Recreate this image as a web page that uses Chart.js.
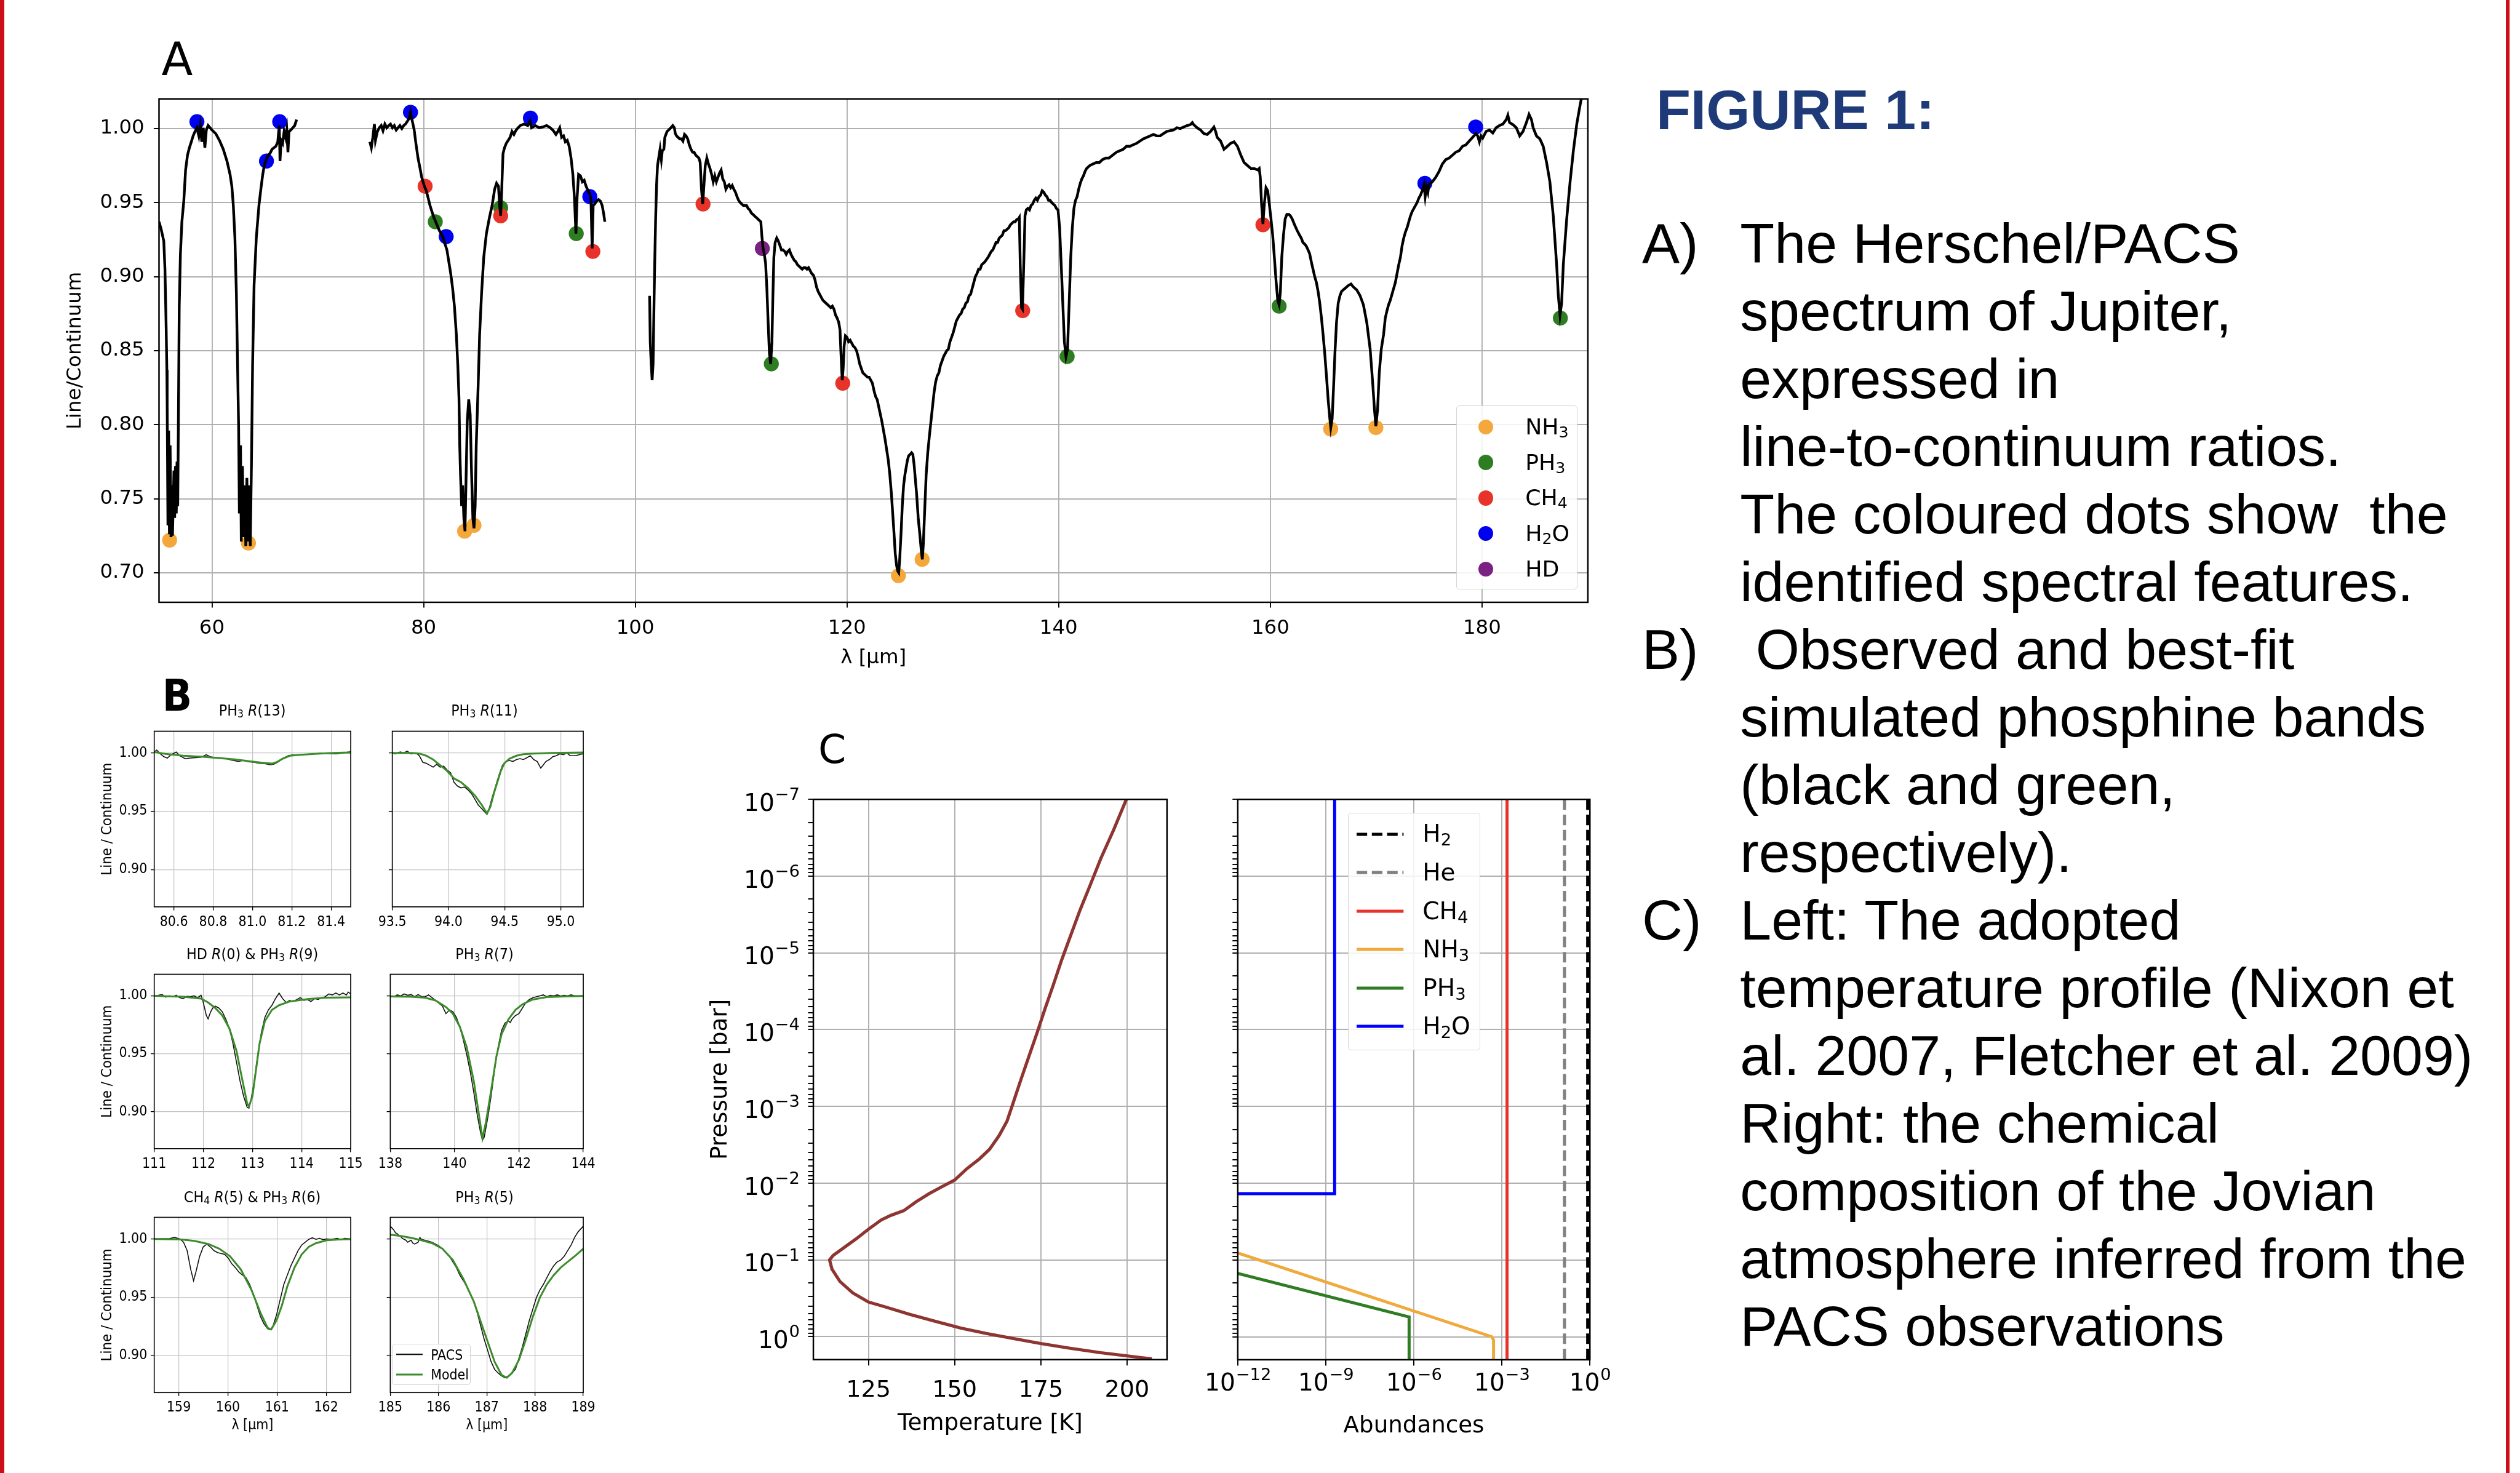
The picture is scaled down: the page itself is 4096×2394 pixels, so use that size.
<!DOCTYPE html>
<html>
<head>
<meta charset="utf-8">
<title>Figure 1 - Herschel/PACS spectrum of Jupiter</title>
<script src="https://cdn.jsdelivr.net/npm/chart.js@4.4.1/dist/chart.umd.min.js"></script>
<style>
  html, body { margin: 0; padding: 0; background: #fff; }
  #page { position: relative; width: 4096px; height: 2394px; overflow: hidden; background: #fff; }
  #page canvas { position: absolute; }
  .txt { position: absolute; line-height: 1; white-space: pre; color: #000; }
  .txt sub { font-size: 70%; vertical-align: -0.22em; line-height: 0; }
  .box { position: absolute; box-sizing: border-box; background: rgba(255,255,255,0.85); border: 1px solid #d4d4d4; border-radius: 5px; }
  .edge { position: absolute; top: 0; height: 2394px; background: #cc0d1a; }
</style>
</head>
<body>
<div id="page"></div>
<script>
/* ==================================================================
   DATA
   ================================================================== */

// --- Panel A: PACS line/continuum spectrum (three detector segments) ---
const aXTicks = [60, 80, 100, 120, 140, 160, 180];
const aYTicks = [0.70, 0.75, 0.80, 0.85, 0.90, 0.95, 1.00];

const specSeg1 = [[55.0,0.937],[55.2,0.932],[55.45,0.924],[55.56,0.905],[55.67,0.867],[55.74,0.837],[55.77,0.813],[55.84,0.732],[55.91,0.796],[55.98,0.726],[56.05,0.786],[56.13,0.724],[56.2,0.759],[56.27,0.725],[56.34,0.745],[56.41,0.769],[56.48,0.737],[56.55,0.772],[56.63,0.740],[56.7,0.775],[56.77,0.745],[56.84,0.813],[56.91,0.880],[57.02,0.915],[57.16,0.937],[57.34,0.951],[57.51,0.972],[57.69,0.982],[57.87,0.987],[58.05,0.991],[58.22,0.995],[58.4,0.998],[58.58,1.0005],[58.76,0.995],[58.9,1.002],[59.04,0.991],[59.18,1.0005],[59.33,0.987],[59.47,0.999],[59.64,1.002],[59.82,1.0005],[60.0,0.999],[60.36,0.9965],[60.71,0.992],[61.07,0.986],[61.42,0.978],[61.71,0.969],[61.88,0.961],[62.02,0.948],[62.17,0.926],[62.31,0.888],[62.42,0.840],[62.52,0.799],[62.59,0.740],[62.7,0.786],[62.77,0.721],[62.88,0.772],[62.98,0.724],[63.09,0.759],[63.2,0.718],[63.3,0.764],[63.41,0.721],[63.52,0.759],[63.62,0.718],[63.73,0.772],[63.84,0.840],[63.98,0.894],[64.19,0.926],[64.44,0.948],[64.62,0.959],[64.8,0.969],[64.97,0.976],[65.15,0.979],[65.33,0.982],[65.51,0.9835],[65.68,0.986],[65.86,0.987],[66.04,0.988],[66.22,0.991],[66.36,1.002],[66.43,0.978],[66.54,0.992],[66.68,0.990],[66.82,0.998],[66.96,0.994],[67.07,0.999],[67.18,0.984],[67.28,0.998],[67.46,0.999],[67.64,1.0005],[67.82,1.002],[68.0,1.006]];

const specSeg2 = [[74.92,0.991],[75.06,0.987],[75.2,0.994],[75.35,1.003],[75.45,0.992],[75.63,0.998],[75.81,1.0005],[75.99,1.002],[76.16,0.9985],[76.34,1.003],[76.52,1.0005],[76.7,1.002],[76.87,1.003],[77.05,1.0005],[77.23,1.002],[77.41,0.999],[77.58,1.0005],[77.76,1.002],[77.94,1.0],[78.12,1.002],[78.29,1.003],[78.47,1.005],[78.65,1.007],[78.76,1.011],[78.9,1.006],[79.11,0.999],[79.25,0.991],[79.47,0.98],[79.61,0.975],[79.82,0.967],[80.07,0.961],[80.25,0.958],[80.43,0.953],[80.6,0.948],[80.78,0.944],[80.96,0.94],[81.14,0.937],[81.31,0.934],[81.49,0.931],[81.67,0.929],[81.85,0.926],[82.02,0.922],[82.2,0.918],[82.38,0.91],[82.56,0.902],[82.74,0.892],[82.91,0.88],[83.09,0.861],[83.23,0.84],[83.34,0.818],[83.41,0.786],[83.48,0.767],[83.59,0.745],[83.69,0.759],[83.8,0.737],[83.91,0.728],[84.01,0.764],[84.12,0.802],[84.26,0.817],[84.4,0.807],[84.51,0.772],[84.65,0.737],[84.76,0.73],[84.87,0.745],[84.97,0.786],[85.15,0.826],[85.29,0.861],[85.47,0.888],[85.68,0.913],[85.93,0.929],[86.22,0.94],[86.47,0.948],[86.71,0.959],[86.89,0.963],[87.07,0.961],[87.18,0.948],[87.28,0.941],[87.39,0.961],[87.5,0.983],[87.64,0.987],[87.81,0.99],[87.99,0.992],[88.17,0.994],[88.35,0.998],[88.53,0.996],[88.7,0.9985],[88.92,1.0005],[89.13,1.002],[89.49,1.003],[89.84,1.002],[90.05,1.005],[90.2,1.0005],[90.55,1.002],[90.91,1.0005],[91.26,1.001],[91.62,1.002],[91.97,1.0005],[92.26,0.9985],[92.5,0.996],[92.68,0.998],[92.86,1.0005],[93.04,0.994],[93.22,0.995],[93.39,0.991],[93.57,0.992],[93.75,0.988],[93.93,0.98],[94.1,0.969],[94.25,0.953],[94.39,0.929],[94.5,0.953],[94.64,0.969],[94.82,0.968],[95.0,0.964],[95.17,0.965],[95.35,0.961],[95.53,0.958],[95.7,0.956],[95.81,0.952],[95.92,0.919],[96.02,0.948],[96.16,0.949],[96.34,0.951],[96.52,0.952],[96.7,0.951],[96.87,0.948],[97.02,0.942],[97.12,0.937]];

const specSeg3 = [[101.35,0.887],[101.41,0.856],[101.5,0.841],[101.59,0.830],[101.68,0.841],[101.74,0.869],[101.83,0.908],[101.92,0.939],[102.01,0.962],[102.1,0.975],[102.25,0.982],[102.34,0.986],[102.46,0.979],[102.55,0.985],[102.7,0.986],[102.79,0.994],[103.0,0.998],[103.15,0.999],[103.36,1.0005],[103.54,1.002],[103.69,1.0005],[103.78,0.9966],[103.9,0.995],[104.05,0.994],[104.2,0.993],[104.35,0.993],[104.5,0.9915],[104.65,0.996],[104.8,0.995],[104.95,0.993],[105.1,0.989],[105.26,0.986],[105.41,0.984],[105.56,0.984],[105.71,0.982],[105.86,0.981],[106.01,0.98],[106.13,0.977],[106.25,0.959],[106.37,0.949],[106.46,0.959],[106.61,0.975],[106.76,0.98],[106.91,0.976],[107.06,0.973],[107.21,0.969],[107.36,0.964],[107.51,0.968],[107.66,0.964],[107.81,0.967],[107.96,0.97],[108.11,0.972],[108.26,0.966],[108.41,0.964],[108.56,0.959],[108.71,0.961],[108.86,0.962],[109.01,0.96],[109.16,0.9615],[109.31,0.959],[109.46,0.957],[109.61,0.954],[109.76,0.9515],[109.91,0.95],[110.06,0.949],[110.21,0.948],[110.51,0.948],[110.66,0.946],[110.81,0.945],[110.96,0.943],[111.11,0.942],[111.26,0.941],[111.41,0.94],[111.56,0.939],[111.71,0.938],[111.86,0.937],[111.95,0.928],[112.07,0.919],[112.19,0.915],[112.31,0.909],[112.43,0.892],[112.55,0.869],[112.67,0.848],[112.79,0.841],[112.91,0.856],[113.0,0.887],[113.09,0.913],[113.21,0.923],[113.36,0.926],[113.51,0.924],[113.66,0.921],[113.81,0.918],[113.96,0.918],[114.11,0.917],[114.26,0.915],[114.41,0.917],[114.56,0.918],[114.71,0.915],[114.86,0.913],[115.02,0.911],[115.17,0.91],[115.32,0.908],[115.47,0.907],[115.62,0.906],[115.77,0.905],[115.92,0.906],[116.07,0.906],[116.22,0.905],[116.37,0.906],[116.52,0.904],[116.67,0.902],[116.82,0.901],[116.97,0.898],[117.12,0.893],[117.27,0.89],[117.42,0.888],[117.57,0.886],[117.72,0.884],[117.87,0.883],[118.02,0.882],[118.17,0.881],[118.32,0.88],[118.47,0.879],[118.62,0.88],[118.77,0.878],[118.92,0.874],[119.07,0.872],[119.22,0.869],[119.34,0.864],[119.43,0.848],[119.55,0.83],[119.64,0.838],[119.73,0.853],[119.85,0.86],[120.0,0.859],[120.15,0.856],[120.3,0.857],[120.45,0.855],[120.6,0.853],[120.75,0.852],[120.9,0.85],[121.05,0.846],[121.2,0.841],[121.35,0.838],[121.5,0.835],[121.65,0.834],[121.8,0.833],[121.95,0.832],[122.1,0.832],[122.25,0.83],[122.4,0.828],[122.55,0.823],[122.7,0.819],[122.85,0.817],[123.0,0.812],[123.15,0.807],[123.3,0.802],[123.45,0.796],[123.6,0.79],[123.75,0.783],[123.9,0.776],[124.05,0.766],[124.2,0.753],[124.32,0.74],[124.44,0.727],[124.56,0.713],[124.68,0.705],[124.8,0.701],[124.89,0.7],[124.98,0.709],[125.11,0.727],[125.23,0.746],[125.35,0.759],[125.47,0.766],[125.59,0.771],[125.71,0.776],[125.83,0.779],[125.98,0.78],[126.1,0.781],[126.22,0.78],[126.34,0.773],[126.46,0.763],[126.58,0.753],[126.73,0.737],[126.88,0.726],[127.03,0.714],[127.12,0.709],[127.21,0.719],[127.33,0.74],[127.48,0.766],[127.63,0.781],[127.78,0.792],[127.93,0.802],[128.08,0.812],[128.23,0.822],[128.38,0.829],[128.53,0.833],[128.68,0.835],[128.83,0.84],[128.98,0.843],[129.13,0.846],[129.28,0.848],[129.43,0.85],[129.58,0.851],[129.73,0.856],[129.88,0.859],[130.03,0.862],[130.18,0.866],[130.33,0.87],[130.48,0.872],[130.63,0.874],[130.78,0.875],[130.93,0.878],[131.08,0.879],[131.23,0.882],[131.38,0.883],[131.53,0.887],[131.68,0.888],[131.83,0.892],[131.98,0.896],[132.13,0.9],[132.28,0.902],[132.43,0.905],[132.58,0.905],[132.73,0.908],[132.88,0.909],[133.03,0.91],[133.18,0.9115],[133.33,0.913],[133.48,0.915],[133.63,0.917],[133.78,0.918],[133.93,0.9205],[134.08,0.923],[134.23,0.923],[134.38,0.926],[134.53,0.927],[134.68,0.928],[134.83,0.931],[134.98,0.931],[135.14,0.932],[135.29,0.933],[135.44,0.935],[135.59,0.936],[135.74,0.937],[135.89,0.937],[136.04,0.9385],[136.19,0.939],[136.28,0.94],[136.37,0.908],[136.49,0.879],[136.58,0.878],[136.7,0.908],[136.82,0.941],[136.94,0.945],[137.09,0.946],[137.24,0.945],[137.39,0.948],[137.54,0.949],[137.69,0.9515],[137.84,0.953],[137.99,0.9515],[138.14,0.954],[138.29,0.955],[138.44,0.958],[138.59,0.957],[138.74,0.955],[138.89,0.954],[139.04,0.9515],[139.19,0.9515],[139.34,0.95],[139.49,0.949],[139.64,0.948],[139.79,0.946],[139.94,0.945],[140.09,0.933],[140.24,0.908],[140.39,0.882],[140.54,0.856],[140.69,0.846],[140.84,0.851],[140.99,0.882],[141.14,0.913],[141.29,0.933],[141.44,0.946],[141.59,0.9515],[141.74,0.954],[141.89,0.959],[142.04,0.963],[142.19,0.966],[142.34,0.968],[142.49,0.971],[142.64,0.973],[142.94,0.975],[143.24,0.976],[143.54,0.977],[143.84,0.977],[144.14,0.979],[144.44,0.98],[144.74,0.98],[145.46,0.984],[145.78,0.985],[146.1,0.986],[146.41,0.988],[146.73,0.988],[147.05,0.989],[147.37,0.99],[147.68,0.9915],[148.0,0.993],[148.32,0.994],[148.63,0.995],[148.95,0.996],[149.27,0.995],[149.59,0.995],[149.9,0.9966],[150.22,0.998],[150.54,0.9985],[150.86,0.999],[151.17,1.0005],[151.49,1.0],[151.81,1.001],[152.13,1.002],[152.44,1.0026],[152.63,1.004],[152.76,1.0026],[153.08,1.0005],[153.4,0.999],[153.71,0.9966],[154.03,0.996],[154.35,0.998],[154.67,1.001],[154.83,0.998],[154.98,0.994],[155.3,0.9915],[155.62,0.986],[155.94,0.988],[156.25,0.99],[156.57,0.991],[156.89,0.988],[157.21,0.982],[157.52,0.977],[157.84,0.975],[158.16,0.973],[158.48,0.973],[158.79,0.972],[158.95,0.973],[159.05,0.967],[159.17,0.949],[159.3,0.9355],[159.43,0.949],[159.59,0.96],[159.75,0.958],[159.9,0.949],[160.06,0.939],[160.22,0.928],[160.38,0.913],[160.54,0.897],[160.7,0.884],[160.83,0.881],[160.95,0.89],[161.08,0.913],[161.24,0.928],[161.4,0.939],[161.56,0.942],[161.75,0.942],[161.9,0.941],[162.06,0.939],[162.29,0.935],[162.54,0.931],[162.76,0.928],[162.92,0.926],[163.08,0.923],[163.24,0.922],[163.4,0.9205],[163.56,0.918],[163.71,0.9155],[163.87,0.91],[164.03,0.905],[164.19,0.9],[164.35,0.896],[164.51,0.89],[164.67,0.882],[164.83,0.872],[164.98,0.861],[165.14,0.848],[165.3,0.833],[165.46,0.817],[165.62,0.804],[165.71,0.798],[165.84,0.804],[165.97,0.825],[166.1,0.848],[166.25,0.869],[166.41,0.882],[166.57,0.887],[166.73,0.89],[166.89,0.891],[167.05,0.892],[167.37,0.894],[167.62,0.895],[167.84,0.893],[168.16,0.891],[168.48,0.887],[168.79,0.881],[169.11,0.869],[169.43,0.851],[169.65,0.83],[169.84,0.81],[169.97,0.799],[170.13,0.81],[170.29,0.835],[170.48,0.851],[170.7,0.861],[170.86,0.872],[171.02,0.877],[171.17,0.881],[171.33,0.884],[171.49,0.888],[171.65,0.892],[171.81,0.896],[171.97,0.902],[172.13,0.908],[172.29,0.913],[172.44,0.9205],[172.6,0.926],[172.76,0.93],[172.92,0.933],[173.08,0.937],[173.24,0.941],[173.4,0.944],[173.56,0.946],[173.71,0.948],[173.87,0.95],[174.03,0.953],[174.19,0.955],[174.35,0.958],[174.51,0.962],[174.63,0.954],[174.76,0.9605],[174.89,0.957],[174.98,0.962],[175.3,0.964],[175.62,0.967],[175.94,0.971],[176.25,0.976],[176.57,0.979],[176.89,0.98],[177.21,0.982],[177.52,0.984],[177.84,0.985],[178.16,0.988],[178.48,0.989],[178.79,0.9915],[179.11,0.994],[179.43,0.9966],[179.59,0.995],[179.75,0.991],[179.9,0.995],[180.06,0.9935],[180.38,0.998],[180.7,0.999],[181.02,0.997],[181.33,1.0005],[181.65,1.002],[181.97,1.003],[182.29,1.006],[182.44,1.009],[182.6,1.004],[182.92,1.0026],[183.24,1.0005],[183.56,0.995],[183.87,0.998],[184.19,1.004],[184.44,1.0095],[184.67,1.006],[184.83,1.0005],[185.14,0.995],[185.46,0.993],[185.78,0.988],[186.1,0.977],[186.41,0.964],[186.73,0.941],[187.05,0.908],[187.21,0.887],[187.37,0.874],[187.52,0.882],[187.68,0.908],[188.0,0.939],[188.32,0.964],[188.63,0.985],[188.95,1.003],[189.27,1.016],[189.52,1.025]];

// identified features (coloured dots)
const speciesLabels = ['NH₃', 'PH₃', 'CH₄', 'H₂O', 'HD'];
const speciesColors = ['#f4a83c', '#2f7d22', '#e8332a', '#0000f0', '#7b2183'];
const dotsNH3 = [[56.0,0.722],[63.45,0.720],[83.87,0.728],[84.76,0.732],[124.86,0.698],[127.1,0.709],[165.7,0.797],[169.97,0.798]];
const dotsPH3 = [[81.1,0.937],[87.28,0.9465],[94.42,0.929],[112.85,0.841],[140.8,0.846],[160.83,0.880],[187.4,0.872]];
const dotsCH4 = [[80.14,0.961],[87.28,0.941],[95.99,0.917],[106.4,0.949],[119.6,0.828],[136.6,0.877],[159.3,0.935]];
const dotsH2O = [[58.58,1.0046],[65.15,0.978],[66.4,1.0046],[78.76,1.011],[82.13,0.927],[90.09,1.007],[95.7,0.954],[174.6,0.963],[179.4,1.001]];
const dotsHD  = [[112.0,0.919]];

// --- Panel B: observed (PACS) and model phosphine bands ---
const bYTicks = [0.90, 0.95, 1.00];
const bTitles = ['PH<sub>3</sub> <i>R</i>(13)', 'PH<sub>3</sub> <i>R</i>(11)', 'HD <i>R</i>(0) &amp; PH<sub>3</sub> <i>R</i>(9)',
                 'PH<sub>3</sub> <i>R</i>(7)', 'CH<sub>4</sub> <i>R</i>(5) &amp; PH<sub>3</sub> <i>R</i>(6)', 'PH<sub>3</sub> <i>R</i>(5)'];
const bXTicks = [[80.6, 80.8, 81.0, 81.2, 81.4], [93.5, 94.0, 94.5, 95.0], [111, 112, 113, 114, 115],
                 [138, 140, 142, 144], [159, 160, 161, 162], [185, 186, 187, 188, 189]];
const bXRange = [[80.5, 81.5], [93.5, 95.2], [111, 115], [138, 144], [158.5, 162.5], [185, 189]];
const bDecimals = [1, 1, 0, 0, 0, 0];

const bPacs13 = [[80.5,1.0008],[80.513,1.0024],[80.531,0.9992],[80.549,0.9968],[80.567,0.9956],[80.585,0.9984],[80.612,1.0008],[80.63,0.9976],[80.657,0.9951],[80.684,0.9956],[80.711,0.9959],[80.738,0.9963],[80.765,0.9984],[80.784,0.9968],[80.811,0.9959],[80.838,0.9959],[80.865,0.9951],[80.901,0.9935],[80.928,0.9927],[80.955,0.9935],[80.982,0.9924],[81.009,0.9919],[81.036,0.9911],[81.063,0.9908],[81.091,0.9898],[81.109,0.9903],[81.127,0.9919],[81.154,0.9951],[81.181,0.9976],[81.208,0.9984],[81.244,0.9984],[81.28,0.9989],[81.316,0.9992],[81.352,1.0],[81.388,0.9995],[81.425,0.9992],[81.461,1.0],[81.488,1.0008],[81.5,1.0011]];
const bModel13 = [[80.5,1.0008],[80.558,0.9992],[80.648,0.9976],[80.738,0.9968],[80.829,0.9956],[80.919,0.9943],[80.991,0.9927],[81.045,0.9916],[81.1,0.9908],[81.127,0.9924],[81.154,0.9951],[81.19,0.9976],[81.244,0.9984],[81.316,0.9992],[81.388,0.9998],[81.461,1.0002],[81.5,1.0003]];
const bPacs11 = [[93.5,1.0],[93.525,0.9992],[93.571,1.0008],[93.602,1.0],[93.633,1.0016],[93.664,0.9992],[93.71,1.0],[93.741,0.9976],[93.772,0.9919],[93.802,0.9911],[93.833,0.9895],[93.864,0.9878],[93.895,0.9903],[93.926,0.9878],[93.957,0.9887],[93.988,0.9854],[94.019,0.983],[94.049,0.9749],[94.08,0.9716],[94.111,0.97],[94.142,0.9708],[94.173,0.9684],[94.204,0.9652],[94.235,0.9603],[94.265,0.9554],[94.296,0.9522],[94.327,0.9489],[94.343,0.9473],[94.358,0.9506],[94.389,0.9619],[94.42,0.9716],[94.451,0.9814],[94.481,0.9895],[94.512,0.9927],[94.543,0.9935],[94.574,0.9927],[94.605,0.9943],[94.636,0.9951],[94.667,0.9943],[94.698,0.9959],[94.728,0.9976],[94.759,0.9943],[94.79,0.9927],[94.821,0.987],[94.836,0.9887],[94.867,0.9927],[94.898,0.9943],[94.929,0.9968],[94.96,0.9976],[94.991,0.9992],[95.022,0.9984],[95.052,1.0],[95.083,0.9976],[95.13,0.9976],[95.191,0.9992],[95.2,1.0]];
const bModel11 = [[93.5,1.0],[93.679,1.0],[93.741,0.9995],[93.802,0.9976],[93.864,0.9943],[93.926,0.9895],[93.988,0.9846],[94.049,0.9781],[94.111,0.9749],[94.173,0.97],[94.235,0.9635],[94.296,0.9554],[94.343,0.9481],[94.373,0.9538],[94.404,0.9652],[94.435,0.9749],[94.466,0.9846],[94.497,0.9911],[94.543,0.9951],[94.605,0.9976],[94.667,0.9989],[94.759,0.9995],[94.914,1.0],[95.2,1.0003]];
const bPacs9 = [[111.0,1.0],[111.087,1.0005],[111.159,1.0011],[111.231,0.9989],[111.303,1.0],[111.375,0.9992],[111.448,1.0005],[111.52,0.9984],[111.592,0.9976],[111.664,0.9995],[111.736,0.9992],[111.809,1.0],[111.881,0.9984],[111.953,1.0005],[111.989,0.996],[112.025,0.9895],[112.061,0.983],[112.097,0.9801],[112.134,0.9846],[112.17,0.9879],[112.206,0.9903],[112.242,0.9911],[112.314,0.9895],[112.386,0.9862],[112.458,0.9798],[112.531,0.9717],[112.603,0.9587],[112.675,0.9426],[112.747,0.9264],[112.819,0.9134],[112.892,0.9037],[112.928,0.9029],[112.964,0.9086],[113.036,0.9264],[113.108,0.949],[113.181,0.9684],[113.253,0.9814],[113.325,0.9879],[113.397,0.9919],[113.469,0.9976],[113.542,1.0024],[113.614,0.9976],[113.686,0.9943],[113.758,0.996],[113.83,0.9951],[113.903,0.9968],[113.975,0.9984],[114.047,0.996],[114.119,0.9968],[114.191,0.9951],[114.264,0.9976],[114.336,0.9968],[114.408,0.9984],[114.48,0.9992],[114.552,1.0016],[114.625,1.0008],[114.697,1.0024],[114.769,1.0008],[114.841,1.0024],[114.913,1.0008],[114.949,1.0032],[115.0,1.0016]];
const bModel9 = [[111.0,1.0],[111.592,0.9992],[111.953,0.9976],[112.097,0.9943],[112.242,0.9895],[112.386,0.983],[112.531,0.9717],[112.675,0.9523],[112.783,0.9296],[112.892,0.907],[112.928,0.9045],[113.0,0.9134],[113.072,0.9361],[113.144,0.9587],[113.253,0.9782],[113.397,0.9879],[113.542,0.9919],[113.758,0.9951],[114.119,0.9972],[114.48,0.9984],[115.0,0.9987]];
const bPacs7 = [[138.0,1.0],[138.108,0.9992],[138.216,1.0008],[138.324,1.0],[138.432,1.0016],[138.541,1.0005],[138.649,1.0011],[138.757,0.9992],[138.865,1.0011],[138.973,0.9992],[139.081,0.9992],[139.189,1.0008],[139.297,0.9984],[139.405,0.996],[139.514,0.9935],[139.622,0.9911],[139.73,0.9846],[139.784,0.9862],[139.838,0.9879],[139.946,0.9862],[140.054,0.9814],[140.162,0.9733],[140.27,0.962],[140.378,0.949],[140.486,0.9345],[140.595,0.9167],[140.703,0.8972],[140.811,0.8811],[140.865,0.8754],[140.919,0.8778],[141.027,0.894],[141.135,0.9134],[141.243,0.9361],[141.351,0.9555],[141.459,0.9701],[141.568,0.9765],[141.676,0.9782],[141.73,0.9769],[141.784,0.9798],[141.892,0.983],[142.0,0.9846],[142.108,0.9895],[142.216,0.9943],[142.324,0.9968],[142.432,0.9984],[142.541,0.9992],[142.649,1.0],[142.757,1.0008],[142.865,0.9992],[142.973,1.0005],[143.081,1.0],[143.189,1.0008],[143.297,1.0],[143.405,1.0005],[143.514,1.0],[143.622,1.0008],[143.73,1.0],[143.838,1.0],[144.0,1.0]];
const bModel7 = [[138.0,0.9995],[138.649,0.9992],[139.081,0.9984],[139.405,0.996],[139.73,0.9903],[139.946,0.9846],[140.162,0.9733],[140.378,0.9555],[140.595,0.9264],[140.757,0.8972],[140.865,0.877],[140.973,0.8908],[141.135,0.9183],[141.297,0.9474],[141.459,0.9668],[141.676,0.9798],[141.892,0.9879],[142.108,0.9927],[142.432,0.9968],[142.865,0.9989],[143.405,0.9995],[144.0,0.9998]];
const bPacs6 = [[158.5,1.0],[158.66,1.0],[158.806,1.0003],[158.915,1.0013],[159.024,1.0],[159.097,0.9972],[159.17,0.99],[159.243,0.9738],[159.301,0.9641],[159.352,0.9722],[159.425,0.9851],[159.498,0.9932],[159.571,0.9956],[159.643,0.9932],[159.716,0.99],[159.789,0.9883],[159.862,0.9875],[159.935,0.9867],[160.008,0.9835],[160.08,0.9786],[160.153,0.9754],[160.226,0.9714],[160.299,0.9689],[160.372,0.9665],[160.445,0.9608],[160.517,0.9528],[160.59,0.943],[160.663,0.9333],[160.736,0.9269],[160.809,0.9228],[160.86,0.922],[160.918,0.9252],[160.991,0.9349],[161.064,0.9479],[161.137,0.9608],[161.209,0.9689],[161.282,0.977],[161.355,0.9835],[161.428,0.99],[161.501,0.9948],[161.574,0.9972],[161.646,0.9997],[161.719,1.001],[161.792,0.9997],[161.865,1.0005],[161.938,0.9994],[162.011,1.0],[162.083,0.9997],[162.156,1.0],[162.229,1.0005],[162.302,0.9994],[162.375,1.0005],[162.5,1.0]];
const bModel6 = [[158.5,1.0],[159.024,0.9997],[159.316,0.9984],[159.607,0.9956],[159.826,0.9916],[160.044,0.9851],[160.263,0.9738],[160.481,0.956],[160.663,0.9366],[160.809,0.9236],[160.882,0.9223],[160.991,0.9301],[161.1,0.943],[161.209,0.9592],[161.355,0.9754],[161.501,0.9867],[161.646,0.9932],[161.792,0.9964],[162.011,0.9989],[162.302,0.9997],[162.5,0.9998]];
const bPacs5 = [[185.0,1.011],[185.036,1.0094],[185.072,1.0078],[185.108,1.0053],[185.144,1.0045],[185.18,1.0029],[185.216,1.0021],[185.252,1.0005],[185.288,0.9997],[185.324,0.9989],[185.36,0.9972],[185.396,0.9981],[185.432,0.9989],[185.468,0.9964],[185.505,0.9956],[185.541,0.9964],[185.577,0.9972],[185.613,1.0013],[185.649,0.9997],[185.721,0.9989],[185.793,0.9981],[185.865,0.9972],[185.937,0.9956],[186.009,0.994],[186.081,0.9916],[186.153,0.9883],[186.225,0.9851],[186.297,0.9803],[186.369,0.9754],[186.441,0.9689],[186.514,0.9641],[186.586,0.9592],[186.658,0.9528],[186.73,0.9463],[186.802,0.9366],[186.874,0.9252],[186.946,0.9139],[187.018,0.9042],[187.09,0.8945],[187.162,0.888],[187.234,0.8848],[187.306,0.8824],[187.378,0.8807],[187.45,0.8824],[187.523,0.8848],[187.595,0.888],[187.667,0.8977],[187.739,0.9074],[187.811,0.9188],[187.883,0.9301],[187.955,0.9398],[188.027,0.9495],[188.099,0.956],[188.171,0.9608],[188.243,0.9665],[188.315,0.9722],[188.387,0.977],[188.459,0.9803],[188.532,0.9819],[188.604,0.9851],[188.676,0.99],[188.748,0.9948],[188.82,1.0013],[188.892,1.0061],[188.964,1.0094],[189.0,1.011]];
const bModel5 = [[185.0,1.0037],[185.216,1.0026],[185.432,1.001],[185.649,0.9989],[185.865,0.9964],[186.081,0.9916],[186.297,0.9819],[186.514,0.9657],[186.73,0.9463],[186.946,0.9204],[187.162,0.8945],[187.306,0.8832],[187.414,0.8807],[187.523,0.8848],[187.667,0.8961],[187.811,0.9139],[187.955,0.9333],[188.099,0.9495],[188.243,0.9608],[188.387,0.9689],[188.532,0.9754],[188.676,0.9803],[188.82,0.9851],[189.0,0.9916]];

const bPacs = [bPacs13, bPacs11, bPacs9, bPacs7, bPacs6, bPacs5];
const bModel = [bModel13, bModel11, bModel9, bModel7, bModel6, bModel5];

// --- Panel C: temperature profile and abundances ---
const cTempTicks = [125, 150, 175, 200];
const cDecades = [-7, -6, -5, -4, -3, -2, -1, 0];
const cAbundTicks = [1e-12, 1e-9, 1e-6, 1e-3, 1];
const cProfileT = [199.8, 196.1, 192.4, 189.2, 186.4, 183.6, 180.9, 178.6, 176.2, 174.0, 171.6, 169.3, 167.0, 165.2, 162.9, 160.1, 157.3, 153.6, 150.0, 146.2, 142.5, 138.9, 135.2, 131.5, 128.7, 125.0, 121.3, 117.6, 114.8, 113.7, 114.4, 116.7, 120.4, 125.0, 129.6, 137.0, 144.4, 151.8, 159.2, 166.6, 174.9, 183.2, 192.4, 201.6, 207.2];
const cProfileP = [1.0e-7, 2.51e-7, 5.89e-7, 1.35e-6, 2.75e-6, 6.03e-6, 1.29e-5, 2.63e-5, 5.37e-5, 1.07e-4, 2.19e-4, 4.37e-4, 8.91e-4, 1.55e-3, 2.40e-3, 3.63e-3, 4.79e-3, 6.46e-3, 9.12e-3, 1.12e-2, 1.38e-2, 1.74e-2, 2.29e-2, 2.63e-2, 3.02e-2, 3.98e-2, 5.37e-2, 7.08e-2, 8.71e-2, 0.100, 0.132, 0.191, 0.269, 0.355, 0.407, 0.513, 0.631, 0.776, 0.912, 1.05, 1.23, 1.41, 1.62, 1.82, 1.95];

const cLabels = ['H₂', 'He', 'CH₄', 'NH₃', 'PH₃', 'H₂O'];
const cColors = ['#000000', '#808080', '#e8332a', '#f0aa3c', '#2f7d22', '#0000ff'];
const cDashed = [true, true, false, false, false, false];
const cH2  = [[0.84, 1e-7], [0.84, 1.995]];
const cHe  = [[0.136, 1e-7], [0.136, 1.995]];
const cCH4 = [[1.5e-3, 1e-7], [1.5e-3, 1.995]];
const cNH3 = [[1e-12, 0.081], [4.5e-4, 1.0], [5.2e-4, 1.1], [5.2e-4, 1.995]];
const cPH3 = [[1e-12, 0.15], [6.9e-7, 0.552], [6.9e-7, 1.995]];
const cH2O = [[2e-9, 1e-7], [2e-9, 0.0137], [1e-12, 0.0137]];
const cAbund = [cH2, cHe, cCH4, cNH3, cPH3, cH2O];

// --- Caption ---
const captionTitle = 'FIGURE 1:';
const captionMarks = [['A)', 0], ['B)', 6], ['C)', 10]];
const captionLines = ['The Herschel/PACS', 'spectrum of Jupiter,', 'expressed in', 'line-to-continuum ratios.',
  'The coloured dots show  the', 'identified spectral features.', ' Observed and best-fit', 'simulated phosphine bands',
  '(black and green,', 'respectively).', 'Left: The adopted', 'temperature profile (Nixon et',
  'al. 2007, Fletcher et al. 2009)', 'Right: the chemical', 'composition of the Jovian',
  'atmosphere inferred from the', 'PACS observations'];

/* ==================================================================
   HELPERS
   ================================================================== */
const S = 4096 / 4294;          // reference pixels -> window pixels
const page = document.getElementById('page');
const MAIN = "'DejaVu Sans', sans-serif";
const COND = "'DejaVu Sans Condensed', 'DejaVu Sans', sans-serif";
const SANS = "'Liberation Sans', Arial, sans-serif";
const GRID = '#b0b0b0';

Chart.defaults.color = '#000';
Chart.defaults.font.family = MAIN;

const framePlugin = {
    id: 'frame',
    afterDatasetsDraw(chart, args, opts) {
        const a = chart.chartArea, ctx = chart.ctx;
        ctx.save();
        ctx.strokeStyle = '#000';
        ctx.lineWidth = opts.width;
        ctx.strokeRect(a.left, a.top, a.right - a.left, a.bottom - a.top);
        ctx.restore();
    }
};

function isDecade(v) { const l = Math.log10(v); return Math.abs(l - Math.round(l)) < 1e-6; }

// "10" with a raised, smaller exponent, like matplotlib's log tick labels
const powLabelPlugin = {
    id: 'powLabels',
    afterDraw(chart, args, opts) {
        if (!opts.axes) return;
        const ctx = chart.ctx, area = chart.chartArea;
        opts.axes.forEach(a => {
            const sc = chart.scales[a.id];
            const base = a.size * S, sup = base * 0.7;
            sc.ticks.forEach(t => {
                if (!isDecade(t.value)) return;
                const exp = String(Math.round(Math.log10(t.value))).replace('-', '\u2212');
                const p = sc.getPixelForValue(t.value);
                ctx.save();
                ctx.fillStyle = '#000';
                ctx.textAlign = 'left';
                ctx.textBaseline = 'alphabetic';
                ctx.font = base + 'px ' + MAIN;
                const wb = ctx.measureText('10').width;
                ctx.font = sup + 'px ' + MAIN;
                const we = ctx.measureText(exp).width;
                let x, y;
                if (a.id === 'y') { x = area.left - a.gap * S - wb - we; y = p + a.shift * S; }
                else { x = p - (wb + we) / 2; y = area.bottom + a.shift * S; }
                ctx.font = base + 'px ' + MAIN;
                ctx.fillText('10', x, y);
                ctx.font = sup + 'px ' + MAIN;
                ctx.fillText(exp, x + wb + base * 0.02, y - base * 0.45);
                ctx.restore();
            });
        });
    }
};

function xy(pairs) { return pairs.map(p => ({ x: p[0], y: p[1] })); }

function subify(s) {
    return s.replace(/[\u2080-\u2089]/g, ch => '<sub>' + (ch.charCodeAt(0) - 0x2080) + '</sub>');
}

function text(html, x, y, size, o = {}) {
    const d = document.createElement('div');
    d.className = 'txt';
    d.innerHTML = html;
    Object.assign(d.style, {
        left: (x * S) + 'px', top: (y * S) + 'px', fontSize: (size * S) + 'px',
        fontFamily: o.family || MAIN, fontWeight: o.weight || 'normal', color: o.color || '#000',
        transform: 'translate(' + (o.align === 'center' ? '-50%' : '0') + ', -50%)'
    });
    page.appendChild(d);
    return d;
}

function box(x, y, w, h) {
    const d = document.createElement('div');
    d.className = 'box';
    Object.assign(d.style, { left: x * S + 'px', top: y * S + 'px', width: w * S + 'px', height: h * S + 'px' });
    page.appendChild(d);
}

function dotMark(cx, cy, r, color) {
    const d = document.createElement('div');
    Object.assign(d.style, {
        position: 'absolute', left: (cx - r) * S + 'px', top: (cy - r) * S + 'px',
        width: 2 * r * S + 'px', height: 2 * r * S + 'px', borderRadius: '50%', background: color
    });
    page.appendChild(d);
}

function lineMark(x1, x2, y, color, width, dash) {
    const ns = 'http://www.w3.org/2000/svg';
    const w = (x2 - x1) * S, h = width * S * 2;
    const svg = document.createElementNS(ns, 'svg');
    svg.setAttribute('width', w);
    svg.setAttribute('height', h);
    Object.assign(svg.style, { position: 'absolute', left: x1 * S + 'px', top: (y * S - h / 2) + 'px' });
    const ln = document.createElementNS(ns, 'line');
    ln.setAttribute('x1', 0); ln.setAttribute('x2', w);
    ln.setAttribute('y1', h / 2); ln.setAttribute('y2', h / 2);
    ln.setAttribute('stroke', color);
    ln.setAttribute('stroke-width', width * S);
    if (dash) ln.setAttribute('stroke-dasharray', dash.map(v => v * S).join(' '));
    svg.appendChild(ln);
    page.appendChild(svg);
}

// scale options; all sizes in reference pixels
function axis(o) {
    return {
        type: o.type || 'linear',
        min: o.min, max: o.max,
        reverse: !!o.reverse,
        bounds: 'data',
        afterBuildTicks: s => { s.ticks = o.ticks.map(v => ({ value: v })); },
        ticks: {
            autoSkip: false, maxRotation: 0, minRotation: 0,
            padding: o.pad * S, color: '#000',
            font: { family: o.family, size: o.size * S },
            callback: v => o.fmt(v)
        },
        grid: {
            color: o.gridColor || GRID,
            lineWidth: o.gw * S,
            drawTicks: true, tickLength: o.tl * S, tickWidth: o.tw * S, tickColor: '#000'
        },
        border: { display: false },
        title: o.title ? {
            display: true, text: o.title, color: '#000',
            font: { family: o.family, size: o.titleSize * S, lineHeight: 1.2 },
            padding: { top: 0, bottom: 0 }
        } : { display: false }
    };
}

// frame = [left, top, right, bottom] of the plot box, margin = [l, t, r, b] around it
function chartAt(frame, margin, datasets, xAxis, yAxis, frameWidth, powAxes) {
    const [l, t, r, b] = frame, [ml, mt, mr, mb] = margin;
    const c = document.createElement('canvas');
    const w = Math.round((r - l + ml + mr) * S), h = Math.round((b - t + mt + mb) * S);
    c.width = w; c.height = h;
    Object.assign(c.style, {
        left: Math.round((l - ml) * S) + 'px', top: Math.round((t - mt) * S) + 'px',
        width: w + 'px', height: h + 'px'
    });
    page.appendChild(c);
    xAxis.afterFit = s => { s.height = mb * S; };
    yAxis.afterFit = s => { s.width = ml * S; };
    return new Chart(c, {
        type: 'line',
        data: { datasets },
        options: {
            responsive: false, maintainAspectRatio: false, animation: false, devicePixelRatio: 1, events: [],
            layout: { padding: { left: 0, top: mt * S, right: mr * S, bottom: 0 } },
            plugins: {
                legend: { display: false }, tooltip: { enabled: false },
                frame: { width: frameWidth * S }, powLabels: { axes: powAxes || null }
            },
            elements: { point: { radius: 0 }, line: { tension: 0 } },
            scales: { x: xAxis, y: yAxis }
        },
        plugins: [framePlugin, powLabelPlugin]
    });
}

/* ==================================================================
   PANEL A
   ================================================================== */
const aDots = [dotsNH3, dotsPH3, dotsCH4, dotsH2O, dotsHD];
const aDatasets = [specSeg1, specSeg2, specSeg3].map(seg => ({
    data: xy(seg), borderColor: '#000', borderWidth: 4.6 * S, pointRadius: 0, fill: false, order: 0
})).concat(aDots.map((d, i) => ({
    label: speciesLabels[i], data: xy(d), showLine: false,
    pointRadius: 12.8 * S, pointBackgroundColor: speciesColors[i], pointBorderWidth: 0, order: 5 - i
})));

chartAt([271, 142, 2706, 1026], [163, 10, 20, 115.4], aDatasets,
    axis({ min: 55, max: 190, ticks: aXTicks, fmt: v => String(v), pad: 15.6, tl: 9, tw: 2, gw: 2,
           size: 34, family: MAIN, title: 'λ [μm]', titleSize: 34 }),
    axis({ min: 0.68, max: 1.02, ticks: aYTicks, fmt: v => v.toFixed(2), pad: 16, tl: 9, tw: 2, gw: 2,
           size: 34, family: MAIN, title: 'Line/Continuum', titleSize: 34 }), 2.6);

// legend
box(2481, 691, 207, 313);
speciesLabels.forEach((lab, i) => {
    const y = 727.5 + i * 60.5;
    dotMark(2532, y, 12.8, speciesColors[i]);
    text(subify(lab), 2599, y, 38, { family: MAIN });
});
text('A', 302, 102, 78, { align: 'center', family: MAIN });

/* ==================================================================
   PANEL B
   ================================================================== */
const bCols = [[262.5, 597.3], [658, 993]];
const bRows = [[1236, 1546], [1650, 1958], [2064, 2373]];
const bTitleY = [1211, 1626, 2040];

bPacs.forEach((pacs, i) => {
    const col = i % 2, row = Math.floor(i / 2);
    const frame = [bCols[col][0], bRows[row][0], bCols[col][1], bRows[row][1]];
    const margin = [col === 0 ? 94 : 20, 10, 45, row === 2 ? 71 : 40];
    chartAt(frame, margin, [
            { data: xy(pacs), borderColor: '#111', borderWidth: 1.7 * S, pointRadius: 0, order: 1 },
            { data: xy(bModel[i]), borderColor: '#3c8c2c', borderWidth: 3.2 * S, pointRadius: 0, order: 0 }],
        axis({ min: bXRange[i][0], max: bXRange[i][1], ticks: bXTicks[i], fmt: v => v.toFixed(bDecimals[i]),
               pad: 6, tl: 6, tw: 1.4, gw: 1.3, gridColor: '#c4c4c4', size: 24, family: COND,
               title: row === 2 ? 'λ [μm]' : null, titleSize: 24 }),
        axis({ min: 0.868, max: 1.0186, ticks: bYTicks, fmt: v => col === 0 ? v.toFixed(2) : '',
               pad: 6, tl: 6, tw: 1.4, gw: 1.3, gridColor: '#c4c4c4', size: 24, family: COND,
               title: col === 0 ? 'Line / Continuum' : null, titleSize: 25 }), 1.7);
    text(bTitles[i], (frame[0] + frame[2]) / 2, bTitleY[row], 26, { align: 'center', family: COND });
});

box(668, 2290, 134, 70);
lineMark(675, 720, 2308, '#111', 2.2);
text('PACS', 734, 2308, 24, { family: COND });
lineMark(675, 720, 2342, '#3c8c2c', 3.2);
text('Model', 734, 2342, 24, { family: COND });
text('B', 302, 1186, 74, { align: 'center', family: COND, weight: 'bold' });

/* ==================================================================
   PANEL C
   ================================================================== */
const cPressureTicks = [];
cDecades.forEach(e => {
    for (let s = 1; s <= 9; s++) {
        const v = s * Math.pow(10, e);
        if (v <= 1.995) cPressureTicks.push(v);
    }
});
const decadeGrid = c => (c.tick && isDecade(c.tick.value)) ? GRID : 'rgba(0,0,0,0)';

function pressureAxis(withTitle) {
    return axis({ type: 'logarithmic', min: 1e-7, max: 1.995, reverse: true, ticks: cPressureTicks,
                  fmt: () => '', gridColor: decadeGrid, pad: 14, tl: 9, tw: 2, gw: 2, size: 40, family: MAIN,
                  title: withTitle ? 'Pressure [bar]' : null, titleSize: 39 });
}

// left: temperature profile
chartAt([1386, 1362, 1989, 2317], [181.4, 40, 40, 133.4], [{
        data: cProfileT.map((t, i) => ({ x: t, y: cProfileP[i] })),
        borderColor: '#8e3531', borderWidth: 5.4 * S, pointRadius: 0 }],
    axis({ min: 109.0, max: 211.6, ticks: cTempTicks, fmt: v => String(v), pad: 18.6, tl: 10, tw: 2, gw: 2,
           size: 40, family: MAIN, title: 'Temperature [K]', titleSize: 39 }),
    pressureAxis(true), 2.6, [{ id: 'y', size: 41, gap: 24, shift: 19.6 }]);

// right: abundances (wide left margin so the 10^-12 label is not cut)
chartAt([2109.5, 1362, 2709.5, 2317], [90, 40, 70, 137.4], cAbund.map((d, i) => ({
        data: xy(d), borderColor: cColors[i], borderWidth: 5.2 * S, pointRadius: 0,
        borderDash: cDashed[i] ? [18 * S, 8 * S] : [] })),
    axis({ type: 'logarithmic', min: 1e-12, max: 1, ticks: cAbundTicks, fmt: () => '',
           pad: 5, tl: 10, tw: 2, gw: 2, size: 40, family: MAIN, title: 'Abundances', titleSize: 39 }),
    pressureAxis(false), 2.6, [{ id: 'x', size: 41, shift: 52.6 }]);

box(2297, 1385, 225, 405);
cLabels.forEach((lab, i) => {
    const y = 1421 + i * 65.6;
    lineMark(2312, 2392, y, cColors[i], 5.2, cDashed[i] ? [18, 8] : null);
    text(subify(lab), 2424, y, 41, { family: MAIN });
});
text('C', 1418, 1277, 68, { align: 'center', family: MAIN });

/* ==================================================================
   CAPTION AND FRAME
   ================================================================== */
text(captionTitle, 2822, 188, 96, { family: SANS, weight: 'bold', color: '#1e3a78' });
captionMarks.forEach(m => text(m[0], 2798, 415 + m[1] * 115.3, 96, { family: SANS }));
captionLines.forEach((line, i) => text(line, 2965, 415 + i * 115.3, 96, { family: SANS }));

[[0, 7], [4270, 6]].forEach(e => {
    const d = document.createElement('div');
    d.className = 'edge';
    Object.assign(d.style, { left: e[0] * S + 'px', width: e[1] * S + 'px' });
    page.appendChild(d);
});
</script>
</body>
</html>
